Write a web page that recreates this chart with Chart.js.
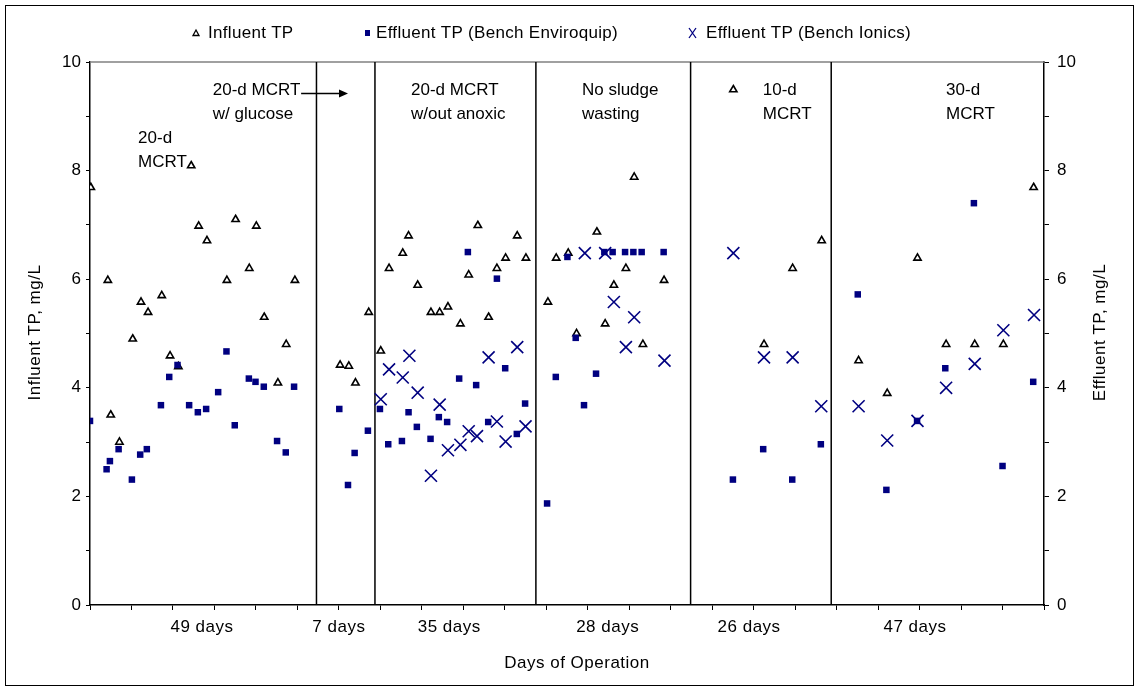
<!DOCTYPE html>
<html>
<head>
<meta charset="utf-8">
<title>Influent and effluent TP</title>
<script src="https://cdn.jsdelivr.net/npm/chart.js@4/dist/chart.umd.min.js"></script>
<style>
  html, body { margin: 0; padding: 0; background: #fff; }
  #wrap { width: 1139px; height: 689px; }
</style>
</head>
<body>
<div id="wrap"><canvas id="c" width="1139" height="689"></canvas></div>
<script>
// ---- measured values (x = day of operation, y = TP in mg/L) ----
const influentDays = [0.2,4.3,5.0,7.1,10.3,12.3,14.0,17.3,19.3,21.3,24.4,26.2,28.2,33.0,35.1,38.4,40.1,42.0,45.3,47.3,49.4,
  60.3,62.4,64.0,67.2,
  70.1,72.1,75.4,76.8,79.0,82.2,84.3,86.3,89.3,91.3,93.5,96.1,98.1,100.2,103.0,105.1,
  110.4,112.4,115.3,117.3,122.2,124.2,126.3,129.2,131.2,133.3,138.4,
  155.1,162.5,169.4,176.4,
  185.3,192.2,199.5,206.4,213.3,220.2,227.5];
const influentTP = [7.69,5.98,3.50,3.00,4.90,5.58,5.39,5.70,4.59,4.39,8.09,6.98,6.71,5.98,7.10,6.20,6.98,5.30,4.09,4.80,5.98,
  4.42,4.40,4.09,5.39,
  4.68,6.20,6.48,6.80,5.89,5.39,5.39,5.49,5.18,6.08,6.99,5.30,6.20,6.39,6.80,6.39,
  5.58,6.39,6.48,5.00,6.87,5.18,5.89,6.20,7.88,4.80,5.98,
  9.49,4.80,6.20,6.71,
  4.50,3.90,6.39,4.80,4.80,4.80,7.69];

const enviroquipDays = [0.0,4.0,4.8,6.9,10.1,12.1,13.7,17.1,19.1,21.1,23.9,26.0,28.0,30.9,32.9,34.9,38.3,39.9,41.9,45.1,47.2,49.2,
  60.1,62.2,63.8,67.0,
  69.9,71.9,75.2,76.8,78.8,82.1,84.1,86.1,89.0,91.1,93.1,96.0,98.1,100.1,102.9,104.9,
  110.2,112.3,115.1,117.1,119.1,122.0,124.0,126.0,129.0,131.0,133.0,138.3,
  155.0,162.3,169.3,176.2,
  185.1,192.0,199.4,206.2,213.1,220.0,227.4];
const enviroquipTP = [3.39,2.50,2.65,2.87,2.31,2.77,2.87,3.68,4.20,4.42,3.68,3.55,3.61,3.92,4.67,3.31,4.17,4.11,4.02,3.02,2.81,4.02,
  3.61,2.21,2.80,3.21,
  3.61,2.96,3.02,3.55,3.28,3.06,3.46,3.37,4.17,6.50,4.05,3.37,6.01,4.36,3.15,3.71,
  1.87,4.20,6.41,4.92,3.68,4.26,6.50,6.50,6.50,6.50,6.50,6.50,
  2.31,2.87,2.31,2.96,
  5.72,2.12,3.39,4.36,7.40,2.56,4.11];

const ionicsDays = [70.1,72.1,75.4,77.0,79.0,82.2,84.3,86.3,89.3,91.3,93.3,96.1,98.1,100.2,103.0,105.0,
  119.3,124.2,126.3,129.2,131.2,138.5,
  155.1,162.5,169.4,176.3,
  185.3,192.2,199.5,206.4,213.3,220.2,227.6];
const ionicsTP = [3.79,4.34,4.19,4.59,3.91,2.38,3.69,2.85,2.95,3.20,3.11,4.56,3.38,3.01,4.75,3.29,
  6.48,6.48,5.58,4.75,5.30,4.50,
  6.48,4.56,4.56,3.66,
  3.66,3.03,3.39,4.00,4.44,5.06,5.34];

// operating periods: day on which each change took place, and their lengths
const periodChangeDays = [54.6, 68.7, 107.5, 144.8, 178.7];
const periodLabels = ['49 days', '7 days', '35 days', '28 days', '26 days', '47 days'];
const periodLabelDays = [27.0, 60.0, 86.6, 124.8, 158.9, 198.9];

const seriesNames = ['Influent TP', 'Effluent TP (Bench Enviroquip)', 'Effluent TP (Bench Ionics)'];

// ---- look ----
const FONT = "'Liberation Sans', Arial, Helvetica, sans-serif";
const NAVY = '#000080';

// condition notes placed in data coordinates (day, mg/L of first line)
const notes = [
  { lines: ['20-d', 'MCRT'], day: 11.6, tp: 8.60 },
  { lines: ['20-d MCRT', 'w/ glucose'], day: 29.6, tp: 9.48 },
  { lines: ['20-d MCRT', 'w/out anoxic'], day: 77.4, tp: 9.48 },
  { lines: ['No sludge', 'wasting'], day: 118.6, tp: 9.48 },
  { lines: ['10-d', 'MCRT'], day: 162.2, tp: 9.48 },
  { lines: ['30-d', 'MCRT'], day: 206.4, tp: 9.48 }
];
const glucoseArrow = { fromDay: 50.9, toDay: 62.2, tp: 9.42 };

function toPoints(xs, ys) { return xs.map((x, i) => ({ x: x, y: ys[i] })); }

function setFont(ctx, spacing) {
  ctx.font = '17px ' + FONT;
  ctx.fillStyle = '#000';
  if ('letterSpacing' in ctx) ctx.letterSpacing = spacing;
}

const overlay = {
  id: 'overlay',
  beforeDraw(chart) {
    const { ctx, width, height } = chart;
    ctx.save();
    ctx.fillStyle = '#fff';
    ctx.fillRect(0, 0, width, height);
    ctx.strokeStyle = '#000';
    ctx.lineWidth = 1;
    ctx.strokeRect(5.5, 5.5, width - 11, height - 9);
    ctx.restore();
  },
  beforeDatasetsDraw(chart) {
    const { ctx, chartArea: a, scales } = chart;
    const x = scales.x;
    ctx.save();
    ctx.strokeStyle = '#808080';
    ctx.lineWidth = 1.5;
    ctx.beginPath();
    ctx.moveTo(a.left, a.top);
    ctx.lineTo(a.right, a.top);
    ctx.stroke();
    ctx.strokeStyle = '#000';
    ctx.lineWidth = 1.5;
    ctx.beginPath();
    periodChangeDays.forEach(d => {
      const px = x.getPixelForValue(d);
      ctx.moveTo(px, a.bottom);
      ctx.lineTo(px, a.top);
    });
    ctx.stroke();
    ctx.restore();
  },
  afterDraw(chart) {
    const { ctx, chartArea: a, scales } = chart;
    const x = scales.x, y = scales.y;
    ctx.save();
    setFont(ctx, '0.5px');

    // period lengths under the axis
    ctx.textAlign = 'center';
    ctx.textBaseline = 'middle';
    periodLabels.forEach((t, i) => {
      ctx.fillText(t, x.getPixelForValue(periodLabelDays[i]), a.bottom + 22);
    });

    // axis titles
    ctx.fillText('Days of Operation', (a.left + a.right) / 2 + 10, a.bottom + 58);
    const midY = (a.top + a.bottom) / 2 - 1;
    ctx.save();
    ctx.translate(35, midY);
    ctx.rotate(-Math.PI / 2);
    ctx.fillText('Influent TP, mg/L', 0, 0);
    ctx.restore();
    ctx.save();
    ctx.translate(1100, midY);
    ctx.rotate(-Math.PI / 2);
    ctx.fillText('Effluent TP, mg/L', 0, 0);
    ctx.restore();

    // condition notes
    setFont(ctx, '0px');
    ctx.textAlign = 'left';
    notes.forEach(n => {
      const px = x.getPixelForValue(n.day);
      const py = y.getPixelForValue(n.tp);
      n.lines.forEach((ln, k) => ctx.fillText(ln, px, py + k * 24.5));
    });

    // arrow pointing into the glucose period
    const ax0 = x.getPixelForValue(glucoseArrow.fromDay);
    const ax1 = x.getPixelForValue(glucoseArrow.toDay);
    const ay = y.getPixelForValue(glucoseArrow.tp);
    ctx.strokeStyle = '#000';
    ctx.lineWidth = 1.5;
    ctx.beginPath();
    ctx.moveTo(ax0, ay);
    ctx.lineTo(ax1 - 6, ay);
    ctx.stroke();
    ctx.beginPath();
    ctx.moveTo(ax1, ay);
    ctx.lineTo(ax1 - 9, ay - 4);
    ctx.lineTo(ax1 - 9, ay + 4);
    ctx.closePath();
    ctx.fill();

    // legend
    setFont(ctx, '0.3px');
    const ly = 33;
    ctx.textBaseline = 'middle';
    // triangle
    ctx.lineWidth = 1.3;
    ctx.strokeStyle = '#000';
    ctx.fillStyle = '#fff';
    ctx.beginPath();
    ctx.moveTo(196, ly - 3);
    ctx.lineTo(199, ly + 2.5);
    ctx.lineTo(193, ly + 2.5);
    ctx.closePath();
    ctx.fill();
    ctx.stroke();
    ctx.fillStyle = '#000';
    ctx.fillText(seriesNames[0], 208, ly);
    // square
    ctx.fillStyle = NAVY;
    ctx.fillRect(365, ly - 3, 5, 6);
    ctx.fillStyle = '#000';
    ctx.fillText(seriesNames[1], 376, ly);
    // cross
    ctx.strokeStyle = NAVY;
    ctx.lineWidth = 1.3;
    ctx.beginPath();
    ctx.moveTo(689, ly - 5); ctx.lineTo(696, ly + 5);
    ctx.moveTo(696, ly - 5); ctx.lineTo(689, ly + 5);
    ctx.stroke();
    ctx.fillStyle = '#000';
    ctx.fillText(seriesNames[2], 706, ly);

    ctx.restore();
  }
};

const tickFont = { family: FONT, size: 17 };
const evenLabel = v => (Math.round(v) % 2 === 0 ? String(Math.round(v)) : '');

new Chart(document.getElementById('c'), {
  type: 'scatter',
  data: {
    datasets: [
      {
        label: seriesNames[0],
        data: toPoints(influentDays, influentTP),
        pointStyle: 'triangle',
        pointRadius: 4.2,
        pointHoverRadius: 4.2,
        pointBorderWidth: 1.6,
        pointBorderColor: '#000',
        pointBackgroundColor: '#fff',
        order: 3
      },
      {
        label: seriesNames[1],
        data: toPoints(enviroquipDays, enviroquipTP),
        pointStyle: 'rect',
        pointRadius: 4.6,
        pointHoverRadius: 4.6,
        pointBorderWidth: 0,
        pointBorderColor: NAVY,
        pointBackgroundColor: NAVY,
        order: 2
      },
      {
        label: seriesNames[2],
        data: toPoints(ionicsDays, ionicsTP),
        pointStyle: 'crossRot',
        pointRadius: 8.5,
        pointHoverRadius: 8.5,
        pointBorderWidth: 1.6,
        pointBorderColor: NAVY,
        pointBackgroundColor: NAVY,
        order: 1
      }
    ]
  },
  options: {
    responsive: false,
    devicePixelRatio: 1,
    animation: false,
    events: [],
    layout: { padding: { top: 62, left: 0, right: 0, bottom: 0 } },
    plugins: { legend: { display: false }, tooltip: { enabled: false }, title: { display: false } },
    scales: {
      x: {
        type: 'linear',
        position: 'bottom',
        min: 0,
        max: 230,
        ticks: { stepSize: 10, autoSkip: false, maxRotation: 0, callback: () => '', font: tickFont },
        grid: { drawOnChartArea: false, drawTicks: true, tickLength: 5, color: '#000', lineWidth: 1 },
        border: { color: '#000', width: 1.5 },
        afterFit(s) { s.height = 84; }
      },
      y: {
        position: 'left',
        min: 0,
        max: 10,
        ticks: { stepSize: 1, callback: evenLabel, font: tickFont, color: '#000', padding: 5 },
        grid: { drawOnChartArea: false, drawTicks: true, tickLength: 4, color: '#000', lineWidth: 1 },
        border: { color: '#000', width: 1.5 },
        afterFit(s) { s.width = 90; }
      },
      y2: {
        position: 'right',
        display: true,
        min: 0,
        max: 10,
        ticks: { stepSize: 1, callback: evenLabel, font: tickFont, color: '#000', padding: 8 },
        grid: { drawOnChartArea: false, drawTicks: true, tickLength: 5, color: '#000', lineWidth: 1 },
        border: { color: '#000', width: 1.5 },
        afterFit(s) { s.width = 95; }
      }
    }
  },
  plugins: [overlay]
});
</script>
</body>
</html>
